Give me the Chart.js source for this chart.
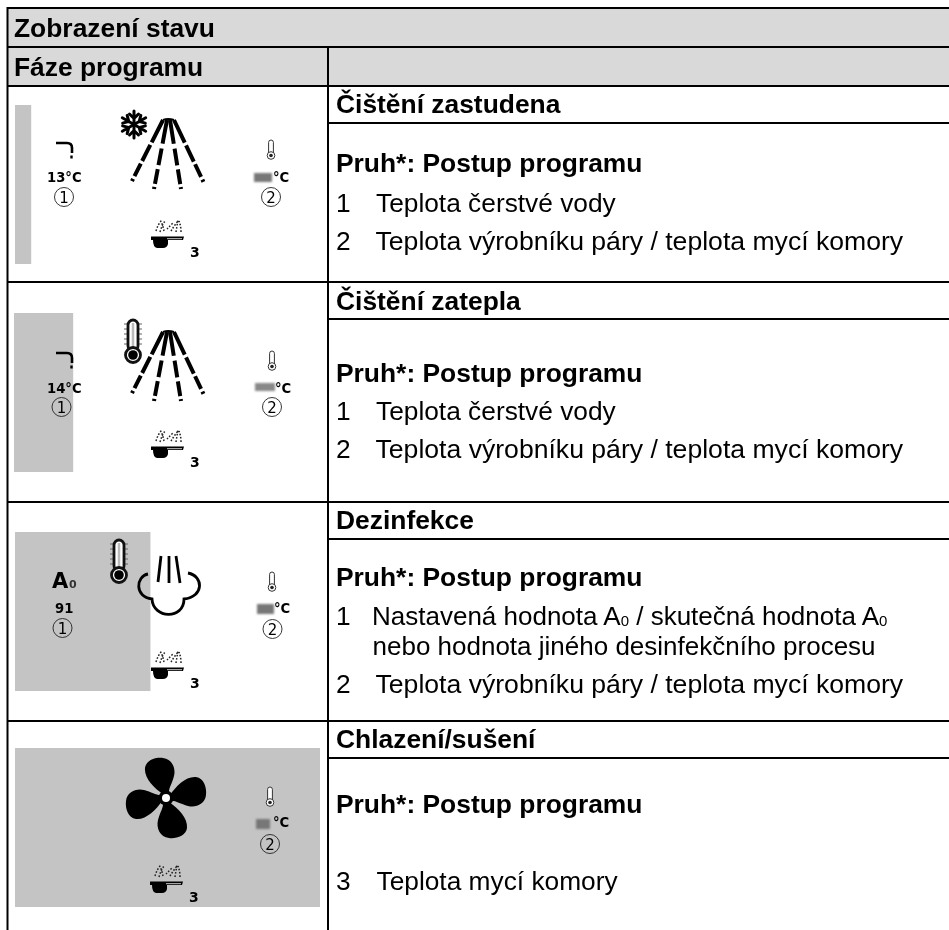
<!DOCTYPE html>
<html lang="cs">
<head>
<meta charset="utf-8">
<title>Zobrazení stavu</title>
<script src="https://cdn.jsdelivr.net/npm/chart.js@4"></script>
<style>
  html, body { margin: 0; padding: 0; background: #fff; }
  body { width: 949px; height: 930px; position: relative; overflow: hidden; }
  .bar { position: absolute; width: 305px; height: 159px; }
  #sheet { position: absolute; left: 0; top: 0; }
  #sheet text { font-family: "Liberation Sans", Arial, sans-serif; font-size: 26.3px; fill: #000; }
  #sheet text.l { font-size: 26.6px; }
  #sheet text.s { font-size: 26px; }
  #sheet text.b { font-weight: bold; font-size: 26.4px; }
  #sheet text.i { font-family: "DejaVu Sans", sans-serif; font-weight: bold; font-size: 13.2px; }
  #sheet text.n { font-family: "DejaVu Sans", sans-serif; font-size: 15px; text-anchor: middle; }
</style>
</head>
<body>
<div class="bar" style="left:15px;top:105px"><canvas id="bar0" width="305" height="159"></canvas></div>
<div class="bar" style="left:14px;top:313px"><canvas id="bar1" width="305" height="159"></canvas></div>
<div class="bar" style="left:15px;top:532px"><canvas id="bar2" width="305" height="159"></canvas></div>
<div class="bar" style="left:15px;top:748px"><canvas id="bar3" width="305" height="159"></canvas></div>

<svg id="sheet" width="949" height="930" xmlns="http://www.w3.org/2000/svg">
  <defs>
    <filter id="blur" x="-30%" y="-30%" width="160%" height="160%"><feGaussianBlur stdDeviation="1.2"/></filter>

    <g id="pan">
      <path d="M156,231 Q158,224 162,220 M160,232 Q162,225 165,221 M164,231 Q163,226 161,221 M167,229 Q170,226 174,222 M171,231 Q174,226 178,221 M176,232 Q177,226 178,220 M181,232 Q181,226 179,221"
            fill="none" stroke="#222" stroke-width="1.5" stroke-dasharray="1.6 1.7"/>
      <path d="M151,236.5 H184 L183,240 H168 V244 Q167,248 163,248 H157 Q153,247 153,240 H151 Z" fill="#000"/>
      <path d="M167,238.7 H182" stroke="#fff" stroke-width="0.8"/>
      <text class="i" style="font-size:14px" x="190" y="257">3</text>
    </g>

    <g id="spray" fill="none" stroke="#000" stroke-width="4">
      <path d="M163,120 Q168,118 174,120" stroke-width="2"/>
      <path d="M163,120 L131,183" stroke-dasharray="25 3 18 3 14 3 2.5"/>
      <path d="M167,120 L154,189" stroke-dasharray="24 5 17 4 15 3 2.5"/>
      <path d="M170,120 L181,189" stroke-dasharray="24 5 17 4 15 3 2.5"/>
      <path d="M174,120 L204,183" stroke-dasharray="25 3 18 3 14 3 2.5"/>
    </g>

    <g id="tap" fill="none" stroke="#000">
      <path d="M56,143 H67 Q72,143 72,148 V153" stroke-width="2.6"/>
      <path d="M71.5,155.5 V158.5" stroke-width="2.4"/>
    </g>

    <g id="thermoSmall">
      <rect x="-2.4" y="0" width="4.8" height="15" rx="2.4" fill="#fff" stroke="#333" stroke-width="1"/>
      <circle cx="0" cy="15.5" r="3.8" fill="#fff" stroke="#333" stroke-width="1"/>
      <circle cx="0" cy="15.5" r="1.8" fill="#222"/>
    </g>

    <g id="thermoBig">
      <path d="M-9,4 H9 M-9,9 H9 M-9,14 H9 M-9,19 H9 M-9,24 H9" stroke="#666" stroke-width="1.2"/>
      <rect x="-5" y="0" width="10" height="31" rx="5" fill="#fff" stroke="#111" stroke-width="2.8"/>
      <path d="M0,3 V30" stroke="#bbb" stroke-width="2.5"/>
      <circle cx="0" cy="35" r="7.5" fill="#fff" stroke="#111" stroke-width="2.8"/>
      <circle cx="0" cy="35" r="4.8" fill="#000"/>
    </g>

    <path id="blade" d="M-3,-4 C-12,-10 -22,-20 -21,-30 C-20,-38 -10,-41 -3,-40 C6,-39 10,-30 8,-22 C6,-14 2,-9 3,-4 Z"/>
  </defs>

  <!-- hlavicka -->
  <rect x="8" y="8" width="941" height="38" fill="#d9d9d9"/>
  <rect x="8" y="48" width="941" height="37" fill="#d9d9d9"/>
  <g fill="#000">
    <rect x="7" y="7" width="942" height="2"/>
    <rect x="7" y="46" width="942" height="2"/>
    <rect x="7" y="85" width="942" height="2"/>
    <rect x="7" y="281" width="942" height="2"/>
    <rect x="7" y="501" width="942" height="2"/>
    <rect x="7" y="720" width="942" height="2"/>
    <rect x="328" y="122" width="621" height="2"/>
    <rect x="328" y="318" width="621" height="2"/>
    <rect x="328" y="538" width="621" height="2"/>
    <rect x="328" y="757" width="621" height="2"/>
    <rect x="6.5" y="7" width="2" height="923"/>
    <rect x="327" y="46" width="2" height="884"/>
  </g>

  <text class="b" x="14" y="37">Zobrazení stavu</text>
  <text class="b" x="14" y="76">Fáze programu</text>

  <!-- pravy sloupec -->
  <text class="b" x="336" y="113" data-phase="0"></text>
  <text class="b" x="336" y="172" data-label="1"></text>
  <text x="336" y="212">1</text><text x="376" y="212">Teplota čerstvé vody</text>
  <text x="336" y="250">2</text><text class="l" x="375.5" y="250">Teplota výrobníku páry / teplota mycí komory</text>

  <text class="b" x="336" y="310" data-phase="1"></text>
  <text class="b" x="336" y="382" data-label="1"></text>
  <text x="336" y="420">1</text><text x="376" y="420">Teplota čerstvé vody</text>
  <text x="336" y="458">2</text><text class="l" x="375.5" y="458">Teplota výrobníku páry / teplota mycí komory</text>

  <text class="b" x="336" y="529" data-phase="2"></text>
  <text class="b" x="336" y="586" data-label="1"></text>
  <text x="336" y="625">1</text>
  <text class="s" x="372" y="625">Nastavená hodnota A<tspan font-size="15" dy="1">0</tspan><tspan dy="-1"> / skutečná hodnota A</tspan><tspan font-size="15" dy="1">0</tspan></text>
  <text class="s" x="372.5" y="655">nebo hodnota jiného desinfekčního procesu</text>
  <text x="336" y="693">2</text><text class="l" x="375.5" y="693">Teplota výrobníku páry / teplota mycí komory</text>

  <text class="b" x="336" y="748" data-phase="3"></text>
  <text class="b" x="336" y="813" data-label="1"></text>
  <text x="336" y="890">3</text><text x="376.5" y="890">Teplota mycí komory</text>

  <!-- faze 1 -->
  <g stroke="#000" stroke-width="3" fill="none" stroke-linecap="round" transform="translate(134,124.5)">
    <path id="flake" d="M0,-13.5 V13.5 M-4.5,-10.5 L0,-6 L4.5,-10.5 M-4.5,10.5 L0,6 L4.5,10.5"/>
    <use href="#flake" transform="rotate(60)"/>
    <use href="#flake" transform="rotate(120)"/>
  </g>
  <use href="#spray"/>
  <use href="#tap"/>
  <text class="i" x="47" y="182">13°C</text>
  <circle cx="64" cy="197" r="9.5" fill="none" stroke="#222" stroke-width="0.9"/>
  <text class="n" x="64" y="202.5">1</text>
  <use href="#pan"/>
  <use href="#thermoSmall" x="271" y="140"/>
  <rect x="254" y="173" width="18" height="9" fill="#777" filter="url(#blur)"/>
  <text class="i" x="273" y="182">°C</text>
  <circle cx="271" cy="197" r="9.5" fill="none" stroke="#222" stroke-width="0.9"/>
  <text class="n" x="271" y="202.5">2</text>

  <!-- faze 2 -->
  <use href="#thermoBig" x="133" y="320"/>
  <use href="#spray" y="212"/>
  <use href="#tap" y="210"/>
  <text class="i" x="47" y="393">14°C</text>
  <circle cx="61.5" cy="407" r="9.5" fill="none" stroke="#222" stroke-width="0.9"/>
  <text class="n" x="61.5" y="412.5">1</text>
  <use href="#pan" y="210"/>
  <use href="#thermoSmall" x="272" y="351"/>
  <rect x="255" y="383" width="20" height="8" fill="#888" filter="url(#blur)"/>
  <text class="i" x="275" y="393">°C</text>
  <circle cx="272" cy="407" r="9.5" fill="none" stroke="#222" stroke-width="0.9"/>
  <text class="n" x="272" y="412.5">2</text>

  <!-- faze 3 -->
  <text class="i" style="font-size:21px" x="52" y="588">A</text>
  <text class="i" style="font-size:11px;fill:#333" x="69" y="588">0</text>
  <text class="i" x="55" y="613">91</text>
  <circle cx="62.5" cy="628" r="9.5" fill="none" stroke="#222" stroke-width="0.9"/>
  <text class="n" x="62.5" y="633.5">1</text>
  <use href="#thermoBig" x="119" y="540"/>
  <g fill="none" stroke="#000" stroke-width="2.8">
    <path d="M148,574 C136,576 134,597 152,599 C153,619 184,620 184,599 C204,597 204,576 188,573"/>
    <path d="M158,582 L161,556 M169,583 V556 M180,583 L176,556"/>
  </g>
  <use href="#pan" y="431"/>
  <use href="#thermoSmall" x="272" y="572"/>
  <rect x="257" y="604" width="17" height="10" fill="#777" filter="url(#blur)"/>
  <text class="i" x="274" y="613">°C</text>
  <circle cx="272.5" cy="629" r="9.5" fill="none" stroke="#222" stroke-width="0.9"/>
  <text class="n" x="272.5" y="634.5">2</text>

  <!-- faze 4 -->
  <g transform="translate(166,798)" fill="#000">
    <use href="#blade"/>
    <use href="#blade" transform="rotate(90)"/>
    <use href="#blade" transform="rotate(180)"/>
    <use href="#blade" transform="rotate(270)"/>
    <circle r="7.5"/>
    <circle r="4" fill="#fff"/>
  </g>
  <use href="#pan" x="-1" y="645"/>
  <use href="#thermoSmall" x="270" y="787"/>
  <rect x="256" y="819" width="14" height="10" fill="#777" filter="url(#blur)"/>
  <text class="i" x="273" y="827">°C</text>
  <circle cx="270" cy="844" r="9.5" fill="none" stroke="#222" stroke-width="0.9"/>
  <text class="n" x="270" y="849.5">2</text>
</svg>

<script>
const phaseNames = ['Čištění zastudena', 'Čištění zatepla', 'Dezinfekce', 'Chlazení/sušení'];
const progressValues = [5.2, 19.3, 44.3, 100];
const progressLabel = 'Pruh*: Postup programu';
const BAR_COLOR = '#c4c4c4';

document.querySelectorAll('[data-phase]').forEach((el) => {
  el.textContent = phaseNames[Number(el.dataset.phase)];
});
document.querySelectorAll('[data-label]').forEach((el) => {
  el.textContent = progressLabel;
});

/** Progress strip of one phase, drawn as a single horizontal bar */
function createProgressBar(index) {
  new Chart(document.getElementById('bar' + index), {
    type: 'bar',
    data: {
      labels: [phaseNames[index]],
      datasets: [{
        label: progressLabel,
        data: [progressValues[index]],
        backgroundColor: BAR_COLOR,
        borderWidth: 0,
        barPercentage: 1,
        categoryPercentage: 1,
      }],
    },
    options: {
      indexAxis: 'y',
      responsive: false,
      animation: false,
      layout: { padding: 0 },
      scales: {
        x: { display: false, min: 0, max: 100 },
        y: { display: false },
      },
      plugins: {
        legend: { display: false },
        tooltip: { enabled: false },
      },
    },
  });
}

phaseNames.forEach((_, i) => createProgressBar(i));
</script>
</body>
</html>
